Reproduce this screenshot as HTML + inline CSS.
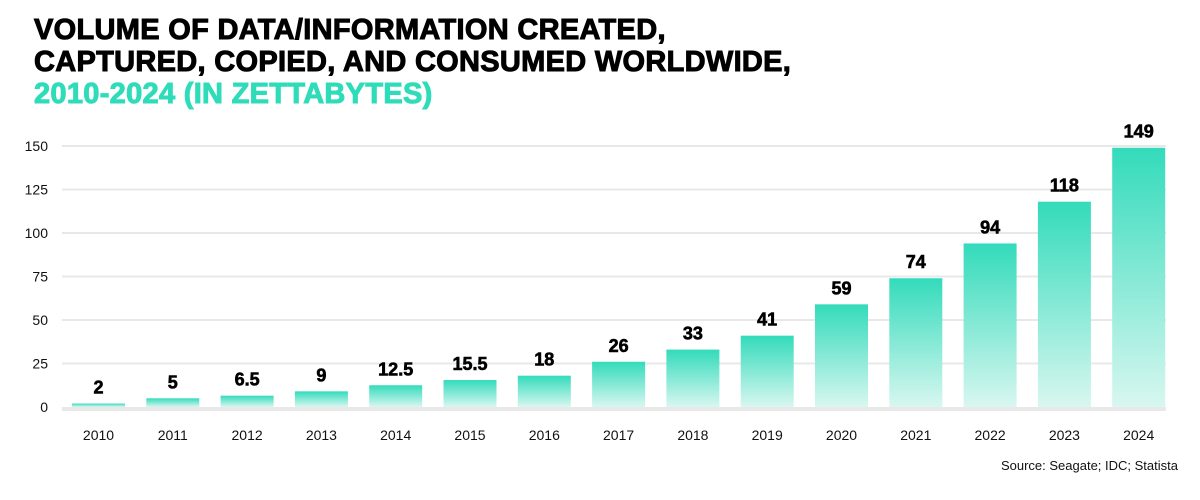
<!DOCTYPE html>
<html><head><meta charset="utf-8"><style>
body{margin:0;background:#fff;width:1200px;height:500px;overflow:hidden;font-family:"Liberation Sans",sans-serif}
.t{position:absolute;left:34px;top:14px;font-weight:900;font-size:29px;line-height:32px;color:#000;letter-spacing:0.3px;-webkit-text-stroke:1px #000}
.t .g{color:#2fdcb9;-webkit-text-stroke:1px #2fdcb9}
</style></head><body>
<div class="t">VOLUME OF DATA/INFORMATION CREATED,<br>CAPTURED, COPIED, AND CONSUMED WORLDWIDE,<br><span class="g">2010-2024 (IN ZETTABYTES)</span></div>
<svg id="c" width="1200" height="500" style="position:absolute;left:0;top:0">
<defs><linearGradient id="gr" x1="0" y1="0" x2="0" y2="1"><stop offset="0" stop-color="#33dbbb"/><stop offset="1" stop-color="#d8f7f0"/></linearGradient></defs>
</svg>
<div style="position:absolute;right:22px;top:458px;font-size:13px;color:#111">Source: Seagate; IDC; Statista</div>
<script>
const categories=["2010","2011","2012","2013","2014","2015","2016","2017","2018","2019","2020","2021","2022","2023","2024"];
const values=[2,5,6.5,9,12.5,15.5,18,26,33,41,59,74,94,118,149];
const labels=["2","5","6.5","9","12.5","15.5","18","26","33","41","59","74","94","118","149"];
const ticks=[0,25,50,75,100,125,150];
const svg=document.getElementById('c');const NS='http://www.w3.org/2000/svg';
const y=v=>407-v*1.74;const x0=72,step=74.3,bw=53;
function mk(t,a){const e=document.createElementNS(NS,t);for(const k in a)e.setAttribute(k,a[k]);svg.appendChild(e);return e;}
ticks.forEach(t=>{
 const l=mk('line',{x1:62,x2:1166,y1:y(t)+(t===0?2:0),y2:y(t)+(t===0?2:0),stroke:'#e8e8e8','stroke-width':t===0?4:2});
 
 
 const tx=mk('text',{x:48,y:y(t)+5,'text-anchor':'end','font-size':14,fill:'#111'});tx.textContent=t;
 
 
});
categories.forEach((c,i)=>{
 const bx=x0+i*step;
 const r=mk('rect',{x:bx,y:y(values[i]),width:bw,height:407-y(values[i]),fill:'url(#gr)'});
 
 
 const v=mk('text',{x:bx+bw/2,y:y(values[i])-10,'text-anchor':'middle','font-size':18,'font-weight':'bold',fill:'#000',stroke:'#000','stroke-width':0.6});v.textContent=labels[i];
 
 
 const xl=mk('text',{x:bx+bw/2,y:440,'text-anchor':'middle','font-size':14,fill:'#111'});xl.textContent=c;
 
 
});
</script>
</body></html>
